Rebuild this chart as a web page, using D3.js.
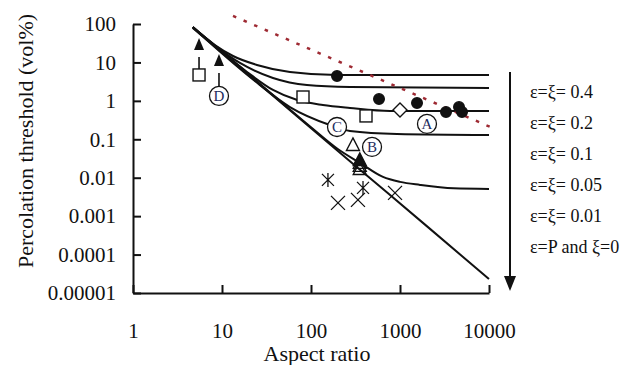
<!DOCTYPE html>
<html>
<head>
<meta charset="utf-8">
<script src="https://cdn.jsdelivr.net/npm/d3@7"></script>
<style>
  body { margin: 0; background: #fff; }
  svg { display: block; font-family: "Liberation Serif", "Times New Roman", serif; }
</style>
</head>
<body>
<svg id="chart" width="636" height="365"></svg>
<script>
// ticks
const xTicks = [1, 10, 100, 1000, 10000];
const xTickLabels = ["1", "10", "100", "1000", "10000"];
const yTicks = [1e-5, 1e-4, 1e-3, 1e-2, 1e-1, 1, 10, 100];
const yTickLabels = ["0.00001", "0.0001", "0.001", "0.01", "0.1", "1", "10", "100"];

// model curves [aspect ratio, threshold vol%]
const curve04 = [[4.7, 83], [8.4, 28], [13.3, 14.7], [24.7, 8.6], [58, 5.65], [196, 4.72], [10000, 4.72]];
const curve02 = [[4.7, 83], [8.4, 27], [15.9, 9.7], [37.4, 3.94], [90, 2.59], [274, 2.3], [10000, 2.17]];
const curve01 = [[4.7, 82], [8.4, 26.5], [19.1, 5.65], [37.4, 1.92], [70, 1.05], [136, 0.78], [274, 0.653], [772, 0.546], [10000, 0.546]];
const curve005 = [[4.7, 81], [22.3, 3.6], [58, 0.69], [163, 0.236], [274, 0.165], [925, 0.138], [10000, 0.13]];
const curve001 = [[4.7, 82], [20, 4.9], [100, 0.206], [200, 0.056], [355, 0.0243], [644, 0.0105], [1000, 0.0078], [1680, 0.0065], [4000, 0.0053], [10000, 0.0051]];
const curveP = [[4.7, 79], [30, 2.09], [300, 0.0225], [2000, 0.00055], [10000, 2.3e-5]];
const dottedLine = [[13.3, 162], [11000, 0.197]];

const curveLabels = ["ε=ξ= 0.4", "ε=ξ= 0.2", "ε=ξ= 0.1", "ε=ξ= 0.05", "ε=ξ= 0.01", "ε=P and ξ=0"];

// experimental points
const squares = [[5.52, 4.72], [81.3, 1.26], [415, 0.405]];
const dots = [[196, 4.44], [581, 1.12], [1553, 0.88], [3289, 0.514], [4603, 0.694], [4975, 0.514]];
const diamonds = [[1000, 0.58]];
const triangles = [[296, 0.0713], [353, 0.0203], [353, 0.0169], [353, 0.0243]];
const filledTriangles = [[353, 0.029]];
const crosses = [[201, 0.00221], [337, 0.00265], [879, 0.00403]];
const asterisks = [[155, 0.00877], [384, 0.00543]];
const lettered = [["A", 2010, 0.251], ["B", 485, 0.0632], ["C", 196, 0.209], ["D", 9.25, 1.34]];
// lower-bound arrows: [aspect ratio, marker value, arrow tip value, marker half size]
const arrows = [[5.52, 4.72, 43, 6], [9.25, 1.34, 16.6, 9.5]];

const svg = d3.select("#chart");
const ink = "#111";

const x = d3.scaleLog().domain([1, 10000]).range([133, 489]);
const y = d3.scaleLog().domain([1e-5, 100]).range([293, 24]);

/* axes */
const xAxis = d3.axisBottom(x).tickValues(xTicks)
  .tickFormat((d, i) => xTickLabels[i]).tickSize(-8).tickSizeOuter(0).tickPadding(30);
const yAxis = d3.axisLeft(y).tickValues(yTicks)
  .tickFormat((d, i) => yTickLabels[i]).tickSize(-8).tickSizeOuter(0).tickPadding(17);

const gx = svg.append("g").attr("transform", "translate(0,293)").call(xAxis);
const gy = svg.append("g").attr("transform", "translate(133,0)").call(yAxis);
[gx, gy].forEach(g => {
  g.attr("font-family", null).attr("font-size", null);
  g.select(".domain").attr("stroke", ink).attr("stroke-width", 2);
  g.selectAll(".tick line").attr("stroke", ink).attr("stroke-width", 2);
  g.selectAll(".tick text").attr("fill", ink).style("font-size", "21px");
});

svg.append("text")
  .attr("transform", "translate(33,141) rotate(-90)")
  .attr("text-anchor", "middle")
  .style("font-size", "22px").attr("fill", ink)
  .text("Percolation threshold (vol%)");

svg.append("text")
  .attr("x", 317).attr("y", 361)
  .attr("text-anchor", "middle")
  .style("font-size", "22px").attr("fill", ink)
  .text("Aspect ratio");

/* curves */
const line = d3.line()
  .x(d => x(d[0]))
  .y(d => y(d[1]))
  .curve(d3.curveMonotoneX);

[curve04, curve02, curve01, curve005, curve001, curveP].forEach(c => {
  svg.append("path")
    .attr("d", line(c))
    .attr("fill", "none")
    .attr("stroke", ink)
    .attr("stroke-width", 2);
});

svg.append("path")
  .attr("d", d3.line().x(d => x(d[0])).y(d => y(d[1]))(dottedLine))
  .attr("fill", "none")
  .attr("stroke", "#9e2a33")
  .attr("stroke-width", 2.5)
  .attr("stroke-dasharray", "3.5,8");

/* markers */
const marks = svg.append("g").attr("stroke", ink).attr("stroke-width", 1.4);

marks.selectAll(".sq").data(squares).enter().append("rect")
  .attr("x", d => x(d[0]) - 6).attr("y", d => y(d[1]) - 6)
  .attr("width", 12).attr("height", 12)
  .attr("fill", "#fff");

marks.selectAll(".dot").data(dots).enter().append("circle")
  .attr("cx", d => x(d[0])).attr("cy", d => y(d[1]))
  .attr("r", 5.3).attr("fill", ink);

marks.selectAll(".dia").data(diamonds).enter().append("path")
  .attr("d", d => {
    const cx = x(d[0]), cy = y(d[1]);
    return `M${cx},${cy - 7}L${cx + 7},${cy}L${cx},${cy + 7}L${cx - 7},${cy}Z`;
  })
  .attr("fill", "#fff");

const triPath = d => {
  const cx = x(d[0]), cy = y(d[1]);
  return `M${cx},${cy - 7}L${cx + 6.5},${cy + 5.5}L${cx - 6.5},${cy + 5.5}Z`;
};
marks.selectAll(".tri").data(triangles).enter().append("path")
  .attr("d", triPath).attr("fill", "none");
marks.selectAll(".ftri").data(filledTriangles).enter().append("path")
  .attr("d", triPath).attr("fill", ink);

marks.selectAll(".cross").data(crosses).enter().append("path")
  .attr("d", d => {
    const cx = x(d[0]), cy = y(d[1]);
    return `M${cx - 7},${cy - 7}L${cx + 7},${cy + 7}M${cx + 7},${cy - 7}L${cx - 7},${cy + 7}`;
  })
  .attr("stroke-width", 1.3).attr("fill", "none");

marks.selectAll(".ast").data(asterisks).enter().append("path")
  .attr("d", d => {
    const cx = x(d[0]), cy = y(d[1]);
    return `M${cx - 6},${cy - 6}L${cx + 6},${cy + 6}M${cx + 6},${cy - 6}L${cx - 6},${cy + 6}M${cx},${cy - 7}L${cx},${cy + 7}`;
  })
  .attr("stroke-width", 1.3).attr("fill", "none");

// lower-bound arrows
arrows.forEach(a => {
  const ax = x(a[0]), top = y(a[1]) - a[3], tip = y(a[2]);
  marks.append("line")
    .attr("x1", ax).attr("x2", ax)
    .attr("y1", top).attr("y2", tip + 19)
    .attr("stroke-width", 1.6);
  marks.append("path")
    .attr("d", `M${ax},${tip}L${ax + 5},${tip + 12}L${ax - 5},${tip + 12}Z`)
    .attr("fill", ink).attr("stroke", "none");
});

const lg = svg.selectAll(".lett").data(lettered).enter().append("g")
  .attr("transform", d => `translate(${x(d[1])},${y(d[2])})`);
lg.append("circle").attr("r", 9.5)
  .attr("fill", "#fff").attr("stroke", ink).attr("stroke-width", 1.3);
lg.append("text")
  .attr("text-anchor", "middle").attr("dy", "0.35em")
  .style("font-size", "15px").attr("fill", "#1d2c5e")
  .text(d => d[0]);

/* legend: arrow + labels */
svg.append("line")
  .attr("x1", 510).attr("x2", 510).attr("y1", 72).attr("y2", 280)
  .attr("stroke", ink).attr("stroke-width", 2);
svg.append("path")
  .attr("d", "M510,291L504,276L516,276Z")
  .attr("fill", ink);

svg.selectAll(".lbl").data(curveLabels).enter().append("text")
  .attr("x", 530)
  .attr("y", (d, i) => 92 + i * 31)
  .attr("dy", "0.35em")
  .style("font-size", "18px").attr("fill", ink)
  .text(d => d);
</script>
</body>
</html>
